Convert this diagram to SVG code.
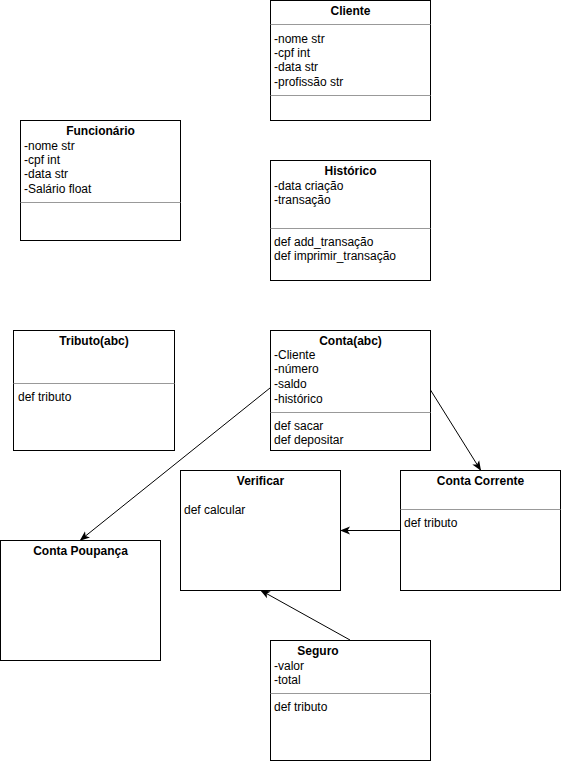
<svg xmlns="http://www.w3.org/2000/svg" width="562" height="762" viewBox="0 0 562 762">
<style>
.box{fill:#fff;stroke:#000;stroke-width:1}
.sep{stroke:#999;stroke-width:1}
text{font-family:"Liberation Sans",Arial,sans-serif;font-size:12px;fill:#000}
.t{font-weight:bold;text-anchor:middle}
.edge{stroke:#000;stroke-width:1;fill:none;marker-end:url(#arr)}
</style>
<defs>
<marker id="arr" viewBox="0 0 10 10" refX="9" refY="5" markerWidth="10" markerHeight="10" markerUnits="userSpaceOnUse" orient="auto">
<path d="M0,1 L10,5 L0,9 L2.5,5 Z" fill="#000"/>
</marker>
</defs>
<rect width="562" height="762" fill="#fff"/>
<g id="cliente">
<rect class="box" x="270.5" y="0.5" width="160" height="120"/>
<line class="sep" x1="270.5" y1="24.5" x2="430.5" y2="24.5"/>
<text class="t" x="350.5" y="15">Cliente</text>
<text x="274" y="43">-nome str</text>
<text x="274" y="57">-cpf int</text>
<text x="274" y="71">-data str</text>
<text x="274" y="86">-profissão str</text>
<line class="sep" x1="270.5" y1="95.5" x2="430.5" y2="95.5"/>
</g>
<g id="funcionario">
<rect class="box" x="20.5" y="120.5" width="160" height="120"/>
<text class="t" x="100.5" y="135">Funcionário</text>
<text x="24" y="150">-nome str</text>
<text x="24" y="164">-cpf int</text>
<text x="24" y="178">-data str</text>
<text x="24" y="193">-Salário float</text>
<line class="sep" x1="20.5" y1="202.5" x2="180.5" y2="202.5"/>
</g>
<g id="historico">
<rect class="box" x="270.5" y="160.5" width="160" height="120"/>
<text class="t" x="350.5" y="175">Histórico</text>
<text x="274" y="190">-data criação</text>
<text x="274" y="204">-transação</text>
<line class="sep" x1="270.5" y1="228.5" x2="430.5" y2="228.5"/>
<text x="274" y="246">def add_transação</text>
<text x="274" y="260">def imprimir_transação</text>
</g>
<g id="tributo">
<rect class="box" x="13.5" y="330.5" width="161" height="120"/>
<text class="t" x="94" y="345">Tributo(abc)</text>
<line class="sep" x1="13.5" y1="383.5" x2="174.5" y2="383.5"/>
<text x="18" y="401">def tributo</text>
</g>
<g id="conta">
<rect class="box" x="270.5" y="330.5" width="160" height="120"/>
<text class="t" x="350.5" y="345">Conta(abc)</text>
<text x="274" y="359">-Cliente</text>
<text x="274" y="373">-número</text>
<text x="274" y="388">-saldo</text>
<text x="274" y="403">-histórico</text>
<line class="sep" x1="270.5" y1="412.5" x2="430.5" y2="412.5"/>
<text x="274" y="430">def sacar</text>
<text x="274" y="444">def depositar</text>
</g>
<g id="verificar">
<rect class="box" x="180.5" y="470.5" width="160" height="120"/>
<text class="t" x="260.5" y="485">Verificar</text>
<text x="184" y="514">def calcular</text>
</g>
<g id="contacorrente">
<rect class="box" x="400.5" y="470.5" width="160" height="120"/>
<text class="t" x="480.5" y="485">Conta Corrente</text>
<line class="sep" x1="400.5" y1="509.5" x2="560.5" y2="509.5"/>
<text x="404" y="527">def tributo</text>
</g>
<g id="contapoupanca">
<rect class="box" x="0.5" y="540.5" width="160" height="120"/>
<text class="t" x="80.5" y="555">Conta Poupança</text>
</g>
<g id="seguro">
<rect class="box" x="270.5" y="640.5" width="160" height="120"/>
<text class="t" x="318" y="655">Seguro</text>
<text x="274" y="670">-valor</text>
<text x="274" y="684">-total</text>
<line class="sep" x1="270.5" y1="693.5" x2="430.5" y2="693.5"/>
<text x="274" y="711">def tributo</text>
</g>
<g id="connectors">
<line class="edge" x1="270" y1="388" x2="80.5" y2="540"/>
<line class="edge" x1="430.5" y1="390" x2="480.5" y2="470"/>
<line class="edge" x1="400" y1="530.5" x2="341" y2="530.5"/>
<line class="edge" x1="350" y1="640" x2="261" y2="590.5"/>
</g>
</svg>
